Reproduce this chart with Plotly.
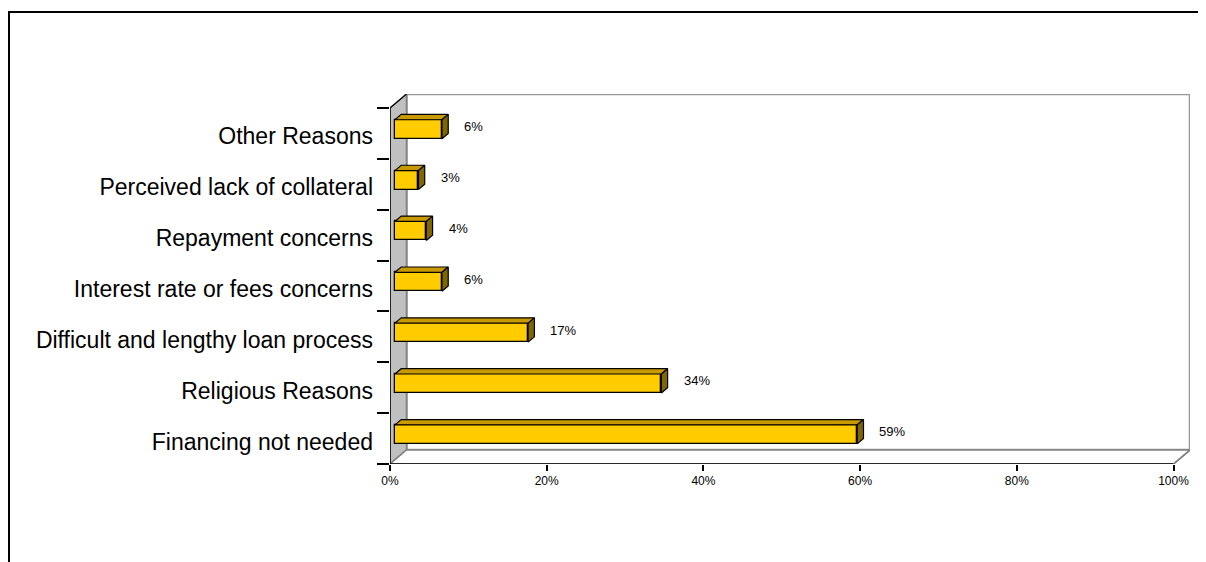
import plotly.graph_objects as go

# ---- data ----
categories = ["Financing not needed", "Religious Reasons", "Difficult and lengthy loan process",
              "Interest rate or fees concerns", "Repayment concerns",
              "Perceived lack of collateral", "Other Reasons"]
values = [59, 34, 17, 6, 4, 3, 6]
x_tick_vals = [0, 20, 40, 60, 80, 100]
x_tick_text = ["0%", "20%", "40%", "60%", "80%", "100%"]

# ---- geometry (page body has an 8px margin) ----
PAGE = 8
W, H = 1206 - PAGE, 562 - PAGE
L, T = 390 - PAGE, 94 - PAGE
R = W - (1190 - PAGE)
B = H - (464 - PAGE)
plot_w = W - L - R
plot_h = H - T - B
n = len(categories)
xmax = 100
depth_px_x, depth_px_y = 16.5, 14
x_span = xmax * plot_w / (plot_w - depth_px_x)
dxd = x_span - xmax
y_lo = -0.5
y_span_front = n
y_span = y_span_front * plot_h / (plot_h - depth_px_y)
dyd = y_span - y_span_front
y_hi = y_lo + y_span
px_per_y = plot_h / y_span
f1, f2 = 0.30, 0.68
a1, a2 = f1 * dxd, f2 * dxd
b1, b2 = f1 * dyd, f2 * dyd
bar_h = 19 / px_per_y
h = bar_h / 2
label_drop = 3 / px_per_y

idx = list(range(n))

fig = go.Figure()

# front faces
fig.add_trace(go.Bar(
    orientation="h", y=[i + b1 for i in idx], x=values, base=[a1] * n, width=bar_h,
    marker=dict(color="#FFCC00", line=dict(color="black", width=1.3)),
    hoverinfo="skip", showlegend=False))

# top and side faces
tx, ty = [], []
sx, sy = [], []
for i, v in zip(idx, values):
    tx += [a1, v + a1, v + a2, a2, a1, None]
    ty += [i + h + b1, i + h + b1, i + h + b2, i + h + b2, i + h + b1, None]
    sx += [v + a1, v + a2, v + a2, v + a1, v + a1, None]
    sy += [i - h + b1, i - h + b2, i + h + b2, i + h + b1, i - h + b1, None]
fig.add_trace(go.Scatter(x=tx, y=ty, fill="toself", fillcolor="#C89A00", mode="lines",
                         line=dict(color="black", width=1.2), hoverinfo="skip", showlegend=False))
fig.add_trace(go.Scatter(x=sx, y=sy, fill="toself", fillcolor="#806600", mode="lines",
                         line=dict(color="black", width=1.2), hoverinfo="skip", showlegend=False))

# value labels
for i, v in zip(idx, values):
    fig.add_annotation(x=v + a2, y=i + (b1 + b2) / 2, text=f"{v}%", showarrow=False,
                       xanchor="left", yanchor="middle", xshift=14,
                       font=dict(family="Liberation Sans, Arial", size=13, color="black"))

shapes = []
y_front_top = y_lo + n
# back wall
shapes.append(dict(type="rect", xref="x", yref="y", x0=dxd, x1=xmax + dxd, y0=y_lo + dyd, y1=y_front_top + dyd,
                   fillcolor="white", line=dict(color="#999999", width=2.5), layer="below"))
# left wall
shapes.append(dict(type="path", xref="x", yref="y",
                   path=f"M0,{y_lo} L0,{y_front_top} L{dxd},{y_front_top + dyd} L{dxd},{y_lo + dyd} Z",
                   fillcolor="#C0C0C0", line=dict(color="#808080", width=1.5), layer="below"))
# floor
shapes.append(dict(type="path", xref="x", yref="y",
                   path=f"M0,{y_lo} L{xmax},{y_lo} L{xmax + dxd},{y_lo + dyd} L{dxd},{y_lo + dyd} Z",
                   fillcolor="white", line=dict(color="#808080", width=1.5), layer="below"))
# black edges
shapes.append(dict(type="line", xref="x", yref="y", x0=0, x1=0, y0=y_lo, y1=y_front_top,
                   line=dict(color="black", width=1.5)))
shapes.append(dict(type="line", xref="x", yref="y", x0=0, x1=xmax, y0=y_lo, y1=y_lo,
                   line=dict(color="black", width=1.5)))
shapes.append(dict(type="line", xref="x", yref="y", x0=0, x1=dxd, y0=y_front_top, y1=y_front_top + dyd,
                   line=dict(color="black", width=1.2)))
shapes.append(dict(type="line", xref="x", yref="y", x0=xmax, x1=xmax + dxd, y0=y_lo, y1=y_lo + dyd,
                   line=dict(color="#808080", width=1.5)))
# outer frame
fx0 = (9 - PAGE - L) / plot_w
fx1 = (W + 10 - L) / plot_w
fy1 = (H - B - (12 - PAGE)) / plot_h
fy0 = (H - B - (H + 10)) / plot_h
shapes.append(dict(type="rect", xref="paper", yref="paper", x0=fx0, x1=fx1, y0=fy0, y1=fy1,
                   line=dict(color="black", width=2), fillcolor="rgba(0,0,0,0)"))

fig.update_layout(
    width=W, height=H, margin=dict(l=L, r=R, t=T, b=B),
    paper_bgcolor="white", plot_bgcolor="rgba(0,0,0,0)",
    shapes=shapes, bargap=0,
    font=dict(family="Liberation Sans, Arial", color="black"),
    xaxis=dict(range=[0, x_span], tickvals=x_tick_vals, ticktext=x_tick_text,
               ticks="outside", ticklen=6, tickcolor="black", tickwidth=1.5,
               showgrid=False, zeroline=False, showline=False,
               tickfont=dict(size=12, color="black"), fixedrange=True),
    yaxis=dict(range=[y_lo, y_hi], tickvals=[i - label_drop for i in idx], ticktext=categories, ticks="",
               ticklabelstandoff=16,
               minor=dict(tickvals=[i - 0.5 for i in range(n + 1)], ticks="outside",
                          ticklen=12, tickcolor="black", tickwidth=1.5, showgrid=False),
               showgrid=False, zeroline=False, showline=False,
               tickfont=dict(size=23, color="black"), fixedrange=True),
)

fig.write_html("out.html")
